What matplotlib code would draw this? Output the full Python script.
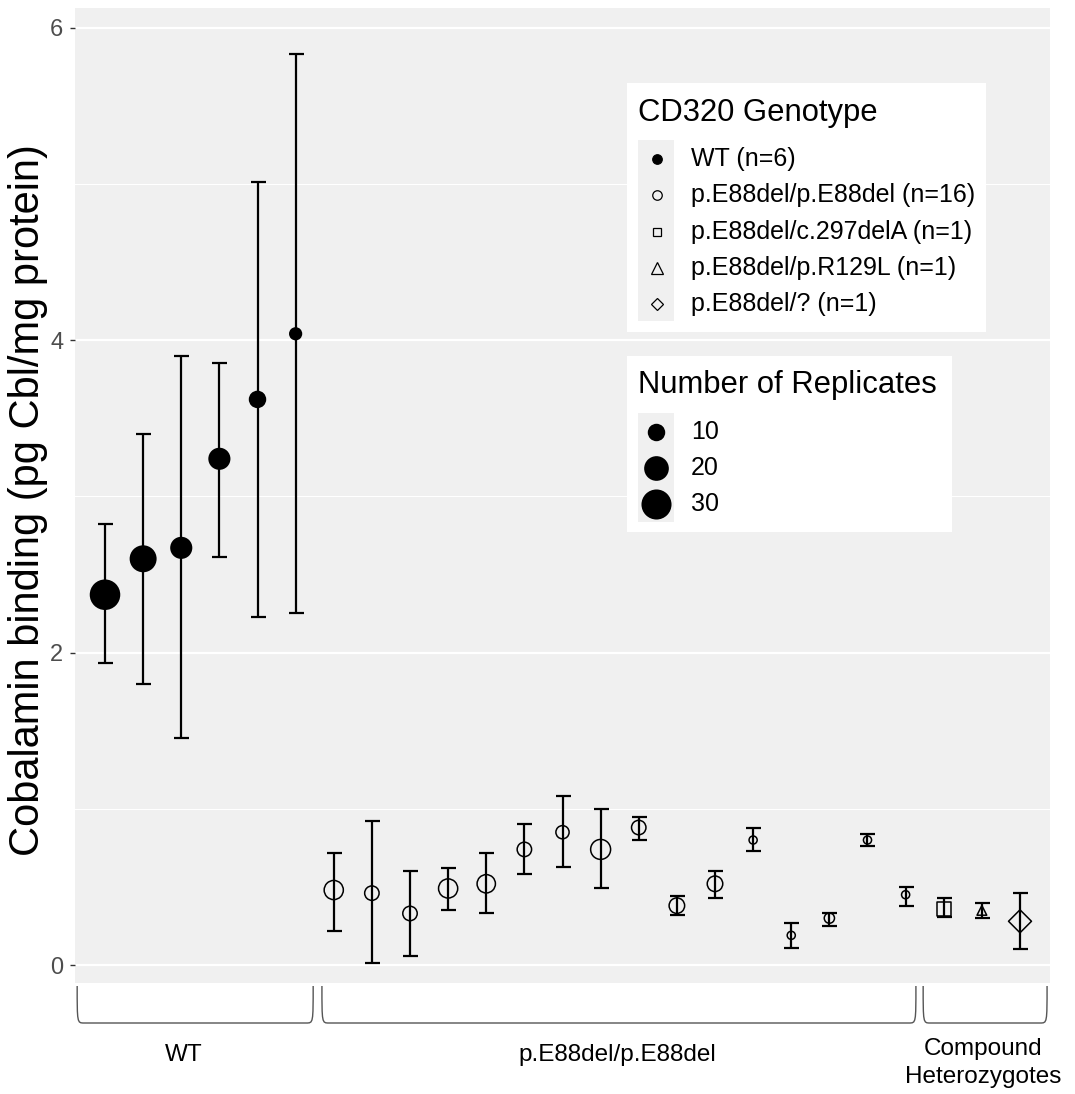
import matplotlib
matplotlib.use('Agg')
import matplotlib.pyplot as plt
import numpy as np
from matplotlib.path import Path
from matplotlib.patches import PathPatch, Rectangle
from matplotlib.lines import Line2D
import matplotlib.transforms as mtransforms

plt.rcParams['font.family'] = ['Liberation Sans', 'DejaVu Sans']

# ---------------- data ----------------
genotype = (['WT'] * 6 + ['p.E88del/p.E88del'] * 16 +
            ['p.E88del/c.297delA', 'p.E88del/p.R129L', 'p.E88del/?'])
mean = [2.37, 2.60, 2.67, 3.24, 3.62, 4.04,
        0.48, 0.46, 0.33, 0.49, 0.52, 0.74, 0.85, 0.74, 0.88, 0.38, 0.52, 0.80,
        0.19, 0.30, 0.80, 0.45,
        0.36, 0.35, 0.28]
lower = [1.93, 1.80, 1.45, 2.61, 2.23, 2.25,
         0.22, 0.01, 0.06, 0.35, 0.33, 0.58, 0.63, 0.49, 0.80, 0.32, 0.43, 0.73,
         0.11, 0.25, 0.76, 0.38,
         0.31, 0.30, 0.10]
upper = [2.82, 3.40, 3.90, 3.85, 5.01, 5.83,
         0.72, 0.92, 0.60, 0.62, 0.72, 0.90, 1.08, 1.00, 0.95, 0.44, 0.60, 0.88,
         0.27, 0.33, 0.84, 0.50,
         0.43, 0.40, 0.46]
replicates = [31, 24, 16, 16, 10, 6,
              12, 7, 7, 12, 11, 7, 6, 13, 7, 8, 8, 3, 3, 4, 3, 3,
              8, 3, 11]

genotype_levels = ['WT', 'p.E88del/p.E88del', 'p.E88del/c.297delA',
                   'p.E88del/p.R129L', 'p.E88del/?']
genotype_legend = ['WT (n=6)', 'p.E88del/p.E88del (n=16)',
                   'p.E88del/c.297delA (n=1)', 'p.E88del/p.R129L (n=1)',
                   'p.E88del/? (n=1)']
size_breaks = [10, 20, 30]
group_names = ['WT', 'p.E88del/p.E88del', 'Compound\nHeterozygotes']
y_ticks = [0, 2, 4, 6]
y_label = 'Cobalamin binding (pg Cbl/mg protein)'

# ---------------- styling ----------------
W, H = 1075, 1094
DPI = 100
PX = 72.0 / DPI  # points per pixel
panel_bg = '#F0F0F0'

shape_style = {
    'WT': dict(marker='o', filled=True, k=1.0),
    'p.E88del/p.E88del': dict(marker='o', filled=False, k=1.0),
    'p.E88del/c.297delA': dict(marker='s', filled=False, k=0.9),
    'p.E88del/p.R129L': dict(marker='^', filled=False, k=1.2),
    'p.E88del/?': dict(marker='D', filled=False, k=0.886),
}


def diam_px(n):
    n = np.asarray(n, dtype=float)
    return 3 + 28 * np.sqrt(np.clip((n - 2) / 30.0, 0, None))


fig = plt.figure(figsize=(W / DPI, H / DPI), dpi=DPI)
ax = fig.add_axes([75 / W, 1 - 983 / H, (1050 - 75) / W, (983 - 8) / H])
ax.set_facecolor(panel_bg)
for s in ax.spines.values():
    s.set_visible(False)

x = np.arange(1, len(mean) + 1)
mean_a = np.array(mean)
lo = mean_a - np.array(lower)
hi = np.array(upper) - mean_a

# grid
for v in [0, 2, 4, 6]:
    ax.axhline(v, color='white', lw=1.6, zorder=0)
for v in [1, 3, 5]:
    ax.axhline(v, color='white', lw=0.8, zorder=0)

ax.errorbar(x, mean_a, yerr=[lo, hi], fmt='none', ecolor='black',
            elinewidth=1.6, capsize=5.4, capthick=1.6, zorder=2)

geno = np.array(genotype)
reps = np.array(replicates)
for g in genotype_levels:
    m = geno == g
    st = shape_style[g]
    d = diam_px(reps[m]) * PX * st['k']
    ax.scatter(x[m], mean_a[m], s=d ** 2, marker=st['marker'],
               facecolors='black' if st['filled'] else 'none',
               edgecolors='black', linewidths=0 if st['filled'] else 1.1,
               zorder=3)

ax.set_xlim(0.213, 25.787)
ax.set_ylim(-0.115, 6.125)
ax.set_xticks([])
ax.set_yticks(y_ticks)
ax.set_yticklabels([str(t) for t in y_ticks])
ax.tick_params(axis='y', length=3.5, width=1.0, color='#333333',
               labelsize=17, labelcolor='#4D4D4D', pad=5)

fig.text(28 / W, 1 - 500 / H, y_label, rotation=90, ha='center', va='center',
         fontsize=30, color='black')

# ---------------- group brackets ----------------
group_ranges = [(1, 6), (7, 22), (23, 25)]
bracket_pad = [(0.73, 0.46), (0.31, 0.27), (0.54, 0.71)]
label_x = [3.07, 14.45, 24.03]
trans = mtransforms.blended_transform_factory(ax.transData, fig.transFigure)
ytop = 1 - 986 / H
ybot = 1 - 1023 / H
dx = 0.18
for (a, b), (pl, pr), lx, name in zip(group_ranges, bracket_pad, label_x, group_names):
    x0, x1 = a - pl, b + pr
    verts = [(x0, ytop), (x0, ybot), (x0, ybot), (x0 + dx, ybot),
             (x1 - dx, ybot), (x1, ybot), (x1, ybot), (x1, ytop)]
    codes = [Path.MOVETO, Path.CURVE4, Path.CURVE4, Path.CURVE4,
             Path.LINETO, Path.CURVE4, Path.CURVE4, Path.CURVE4]
    pp = PathPatch(Path(verts, codes), transform=trans, fill=False,
                   edgecolor='#555555', lw=1.0, clip_on=False)
    fig.add_artist(pp)
    if '\n' in name:
        t = fig.text(0, 1 - 1063 / H, name, transform=trans, ha='center',
                     va='center', fontsize=17.5, linespacing=1.3)
    else:
        t = fig.text(0, 1 - 1055 / H, name, transform=trans, ha='center',
                     va='center', fontsize=17.5)
    t.set_x(lx)

# ---------------- legends (drawn in figure pixels) ----------------
def fxy(px, py):
    return px / W, 1 - py / H


def rect(x0, y0, x1, y1, color):
    fig.add_artist(Rectangle(fxy(x0, y1), (x1 - x0) / W, (y1 - y0) / H,
                             transform=fig.transFigure, facecolor=color,
                             edgecolor='none', zorder=5))


# legend 1
rect(627, 83, 986, 332, 'white')
rect(638, 140, 674, 321, panel_bg)
fig.text(*fxy(638, 121), 'CD320 Genotype', fontsize=22.3, va='baseline',
         ha='left', zorder=6)
ys1 = [159, 195, 232, 268, 304]
for g, lab, yy in zip(genotype_levels, genotype_legend, ys1):
    st = shape_style[g]
    ms = 9.5 * PX * st['k']
    fig.add_artist(Line2D([fxy(657, yy)[0]], [fxy(657, yy)[1]],
                          transform=fig.transFigure, marker=st['marker'],
                          markersize=ms, markerfacecolor='black' if st['filled'] else 'none',
                          markeredgecolor='black', markeredgewidth=0.9,
                          linestyle='none', zorder=6))
    fig.text(*fxy(691, yy), lab, fontsize=18, va='center', ha='left', zorder=6)

# legend 2
rect(627, 356, 952, 532, 'white')
rect(638, 413, 674, 522, panel_bg)
fig.text(*fxy(638, 393), 'Number of Replicates', fontsize=22.3, va='baseline',
         ha='left', zorder=6)
ys2 = [432, 468, 504]
for n, yy in zip(size_breaks, ys2):
    ms = float(diam_px(n)) * PX
    fig.add_artist(Line2D([fxy(656, yy)[0]], [fxy(656, yy)[1]],
                          transform=fig.transFigure, marker='o',
                          markersize=ms, markerfacecolor='black',
                          markeredgecolor='black', markeredgewidth=0,
                          linestyle='none', zorder=6))
    fig.text(*fxy(691, yy), str(n), fontsize=18, va='center', ha='left', zorder=6)

fig.savefig('out.png', dpi=DPI, facecolor='white')
